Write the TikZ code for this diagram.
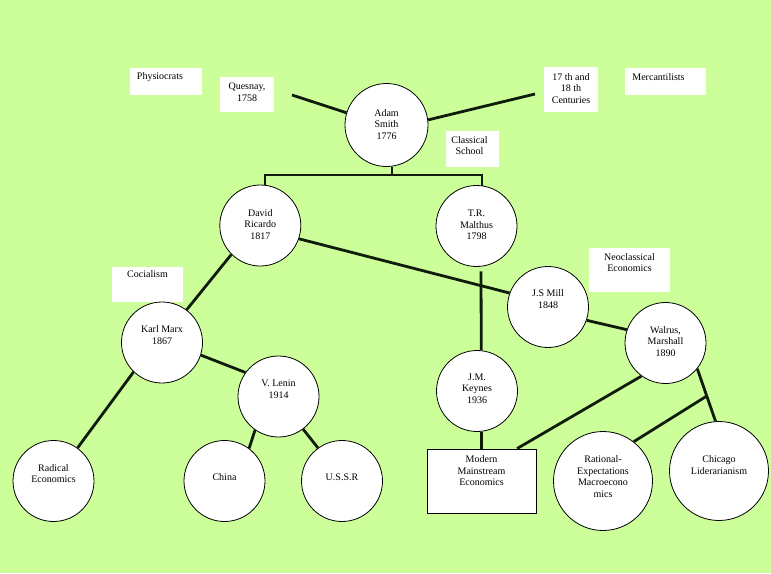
\documentclass[tikz,border=0pt]{standalone}
\usepackage{fontspec}
\setmainfont{Liberation Serif}
\definecolor{bgc}{RGB}{204,255,153}
\definecolor{lnc}{RGB}{15,28,12}
\newcommand\ctx[3]{\raisebox{#2}[0pt][0pt]{\makebox[0pt]{\hspace*{#1}\hspace*{#1}\begin{tabular}{@{}c@{}}#3\end{tabular}}}}
\tikzset{
  circ/.style={circle,draw=black,line width=0.8pt,fill=white,minimum size=81pt,inner sep=0pt},
  bigcirc/.style={circ,minimum size=99pt},
  tbox/.style={rectangle,fill=white,inner sep=0pt},
  rbox/.style={rectangle,draw=black,line width=0.8pt,fill=white,inner sep=0pt},
  conn/.style={draw=lnc,line width=2.8pt},
  brk/.style={draw=lnc,line width=2.2pt}
}
\begin{document}
\begin{tikzpicture}[x=1pt,y=-1pt,font=\fontsize{10}{11.5}\selectfont]
\useasboundingbox (0,0) rectangle (771,573);
\fill[bgc] (0,0) rectangle (771,573);

% text boxes
\node[tbox,minimum width=72pt,minimum height=27pt] (phys) at (166,81.5) {\ctx{-6pt}{1.5pt}{Physiocrats}};
\node[tbox,minimum width=54pt,minimum height=35pt] (ques) at (247,94.5) {\ctx{0pt}{-1pt}{Quesnay,\\1758}};
\node[tbox,minimum width=54pt,minimum height=45pt] (cent) at (571,89.5) {\ctx{0pt}{-2.5pt}{17 th and\\18 th\\Centuries}};
\node[tbox,minimum width=81pt,minimum height=27pt] (merc) at (665.5,81.5) {\ctx{-7pt}{0.5pt}{Mercantilists}};
\node[tbox,minimum width=53pt,minimum height=36pt] (clas) at (472.5,149) {\ctx{-3pt}{0pt}{Classical\\School}};
\node[tbox,minimum width=71pt,minimum height=35pt] (soc) at (147.5,284.5) {\ctx{0pt}{6.5pt}{Cocialism}};
\node[tbox,minimum width=81pt,minimum height=44pt] (neo) at (629.5,270) {\ctx{0pt}{4pt}{Neoclassical\\Economics}};

% circles
\node[circ,minimum size=83pt] (smith) at (386.5,125) {\ctx{0pt}{-3pt}{Adam\\Smith\\1776}};
\node[circ] (ricardo) at (260.3,225.5) {\ctx{0pt}{-2.5pt}{David\\Ricardo\\1817}};
\node[circ] (malthus) at (476.5,226) {\ctx{0pt}{-2.5pt}{T.R.\\Malthus\\1798}};
\node[circ] (marx) at (162,342.5) {\ctx{0pt}{4pt}{Karl Marx\\1867}};
\node[circ] (lenin) at (278.5,396.5) {\ctx{0pt}{4pt}{V. Lenin\\1914}};
\node[circ] (mill) at (548,307) {\ctx{0pt}{4.5pt}{J.S Mill\\1848}};
\node[circ] (walrus) at (665.5,343) {\ctx{0pt}{-2pt}{Walrus,\\Marshall\\1890}};
\node[circ] (keynes) at (477,391) {\ctx{0pt}{-1pt}{J.M.\\Keynes\\1936}};
\node[circ] (radical) at (53.5,481) {\ctx{0pt}{4pt}{Radical\\Economics}};
\node[circ] (china) at (224.5,481) {\ctx{0pt}{0.5pt}{China}};
\node[circ] (ussr) at (342,481) {\ctx{0pt}{0.5pt}{U.S.S.R}};
\node[bigcirc] (rational) at (603,481) {\ctx{0pt}{1pt}{Rational-\\Expectations\\Macroecono\\mics}};
\node[bigcirc] (chicago) at (719,471) {\ctx{0pt}{2.5pt}{Chicago\\Liderarianism}};
\node[rbox,minimum width=109pt,minimum height=64pt] (modern) at (481.5,481) {\ctx{0pt}{6.5pt}{Modern\\Mainstream\\Economics}};

% free ends
\coordinate (qend) at (292,95);
\coordinate (cend) at (535,94);
\coordinate (bar) at (391,175);

% connectors
\draw[conn] (qend) -- (smith.163.5);
\draw[conn] (smith.7) -- (cend);
\draw[brk] (smith.-83.8) -- (smith.-83.8 |- bar);
\draw[brk] (ricardo.83.3) -- (ricardo.83.3 |- bar) -- (malthus.82.2 |- bar) -- (malthus.82.2);
\draw[conn] (ricardo.-19) -- (mill.160.7);
\draw[conn] ([xshift=4.5pt,yshift=-4.5pt]malthus.south) -- (keynes.84.3);
\draw[conn] (ricardo.-135.7) -- (marx.53.9);
\draw[conn] (marx.-18.6) -- (lenin.144.5);
\draw[conn] (marx.-134.6) -- (radical.54.5);
\draw[conn] (lenin.-125.9) -- (china.53.7);
\draw[conn] (lenin.-53.3) -- (ussr.126.9);
\draw[conn] (mill.-19.3) -- (walrus.161.4);
\draw[conn] (walrus.-126.3) -- ([xshift=35.5pt]modern.north);
\draw[conn] (walrus.-39.5) -- coordinate[pos=0.52] (br) (chicago.94.8);
\draw[conn] (br) -- (rational.52);
\draw[conn] (keynes.-84.3) -- (keynes.-84.3 |- modern.north);
\end{tikzpicture}
\end{document}
